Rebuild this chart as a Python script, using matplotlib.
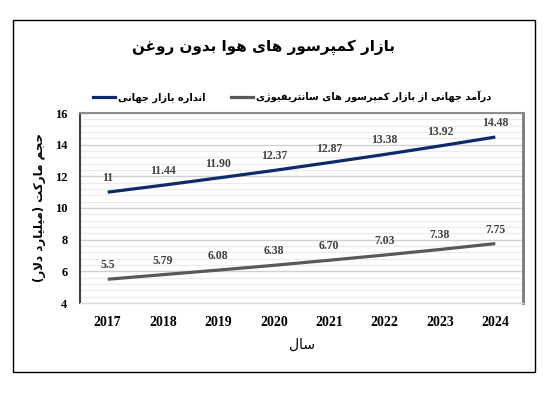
import matplotlib
matplotlib.use("Agg")
import matplotlib.pyplot as plt
from matplotlib.ticker import MultipleLocator
from matplotlib.lines import Line2D
from matplotlib.patches import Rectangle

# ---------------- data ----------------
years = ["2017", "2018", "2019", "2020", "2021", "2022", "2023", "2024"]
market_size = [11, 11.44, 11.90, 12.37, 12.87, 13.38, 13.92, 14.48]
market_labels = ["11", "11.44", "11.90", "12.37", "12.87", "13.38", "13.92", "14.48"]
centrifugal = [5.5, 5.79, 6.08, 6.38, 6.70, 7.03, 7.38, 7.75]
centrifugal_labels = ["5.5", "5.79", "6.08", "6.38", "6.70", "7.03", "7.38", "7.75"]
y_ticks = [4, 6, 8, 10, 12, 14, 16]

title_text = "بازار کمپرسور های هوا بدون روغن"
legend_market = "انداره بازار جهانی"
legend_centrifugal = "درآمد جهانی از بازار کمپرسور های سانتریفیوژی"
y_label = "حجم مارکت (میلیارد دلار)"
x_label = "سال"

# ------------- simple Persian shaping (presentation forms + visual order) -------------
FORMS = {  # isolated, final, initial, medial
    'ا': ('\uFE8D', '\uFE8E', None, None),
    'آ': ('\uFE81', '\uFE82', None, None),
    'ب': ('\uFE8F', '\uFE90', '\uFE91', '\uFE92'),
    'پ': ('\uFB56', '\uFB57', '\uFB58', '\uFB59'),
    'ت': ('\uFE95', '\uFE96', '\uFE97', '\uFE98'),
    'ج': ('\uFE9D', '\uFE9E', '\uFE9F', '\uFEA0'),
    'ح': ('\uFEA1', '\uFEA2', '\uFEA3', '\uFEA4'),
    'د': ('\uFEA9', '\uFEAA', None, None),
    'ر': ('\uFEAD', '\uFEAE', None, None),
    'ز': ('\uFEAF', '\uFEB0', None, None),
    'ژ': ('\uFB8A', '\uFB8B', None, None),
    'س': ('\uFEB1', '\uFEB2', '\uFEB3', '\uFEB4'),
    'غ': ('\uFECD', '\uFECE', '\uFECF', '\uFED0'),
    'ف': ('\uFED1', '\uFED2', '\uFED3', '\uFED4'),
    'ک': ('\uFB8E', '\uFB8F', '\uFB90', '\uFB91'),
    'ل': ('\uFEDD', '\uFEDE', '\uFEDF', '\uFEE0'),
    'م': ('\uFEE1', '\uFEE2', '\uFEE3', '\uFEE4'),
    'ن': ('\uFEE5', '\uFEE6', '\uFEE7', '\uFEE8'),
    'ه': ('\uFEE9', '\uFEEA', '\uFEEB', '\uFEEC'),
    'و': ('\uFEED', '\uFEEE', None, None),
    'ی': ('\uFBFC', '\uFBFD', '\uFBFE', '\uFBFF'),
    'LAا': ('\uFEFB', '\uFEFC', None, None),
    'LAآ': ('\uFEF5', '\uFEF6', None, None),
}
MIRROR = {'(': ')', ')': '('}


def shape(s):
    toks = []
    i = 0
    while i < len(s):
        c = s[i]
        if c == 'ل' and i + 1 < len(s) and s[i + 1] in 'اآ':
            toks.append('LA' + s[i + 1])
            i += 2
        else:
            toks.append(c)
            i += 1
    out = []
    for k, t in enumerate(toks):
        if t not in FORMS:
            out.append(MIRROR.get(t, t))
            continue
        iso, fin, ini, med = FORMS[t]
        prev = toks[k - 1] if k > 0 else None
        nxt = toks[k + 1] if k + 1 < len(toks) else None
        jp = prev in FORMS and FORMS[prev][2] is not None
        jn = ini is not None and nxt in FORMS
        if jp and jn:
            out.append(med)
        elif jp:
            out.append(fin)
        elif jn:
            out.append(ini)
        else:
            out.append(iso)
    return ''.join(reversed(out))


AR_FONT = 'DejaVu Sans'
NUM_FONT = 'Liberation Serif'

# ---------------- figure ----------------
W, H = 547, 393
fig = plt.figure(figsize=(W / 100, H / 100), dpi=100)
fig.patch.set_facecolor('white')

# outer border
fig.add_artist(Rectangle((13 / W, 1 - 372 / H), (535 - 13) / W, (372 - 20) / H,
                         transform=fig.transFigure, fill=False, edgecolor='black', linewidth=1.0))

ax = fig.add_axes([80 / W, 1 - 303 / H, (523 - 80) / W, (303 - 113) / H])
x = list(range(len(years)))

blue = '#0e2a6b'
gray = '#595959'
ax.plot(x, market_size, color=blue, linewidth=2.3, solid_capstyle='butt', zorder=3)
ax.plot(x, centrifugal, color=gray, linewidth=2.3, solid_capstyle='butt', zorder=3)

for xi, v, lab in zip(x, market_size, market_labels):
    ax.annotate(lab, (xi, v), xytext=(0, 8), textcoords='offset pixels', ha='center', va='bottom',
                fontsize=8.5, fontweight='bold', family=NUM_FONT, color='#404040')
for xi, v, lab in zip(x, centrifugal, centrifugal_labels):
    ax.annotate(lab, (xi, v), xytext=(0, 8), textcoords='offset pixels', ha='center', va='bottom',
                fontsize=8.5, fontweight='bold', family=NUM_FONT, color='#404040')

ax.set_xlim(-0.5, len(years) - 0.5)
ax.set_ylim(4, 16)
ax.set_xticks(x)
ax.set_xticklabels(years, fontsize=10, fontweight='bold', family=NUM_FONT)
ax.set_yticks(y_ticks)
ax.set_yticklabels([str(t) for t in y_ticks], fontsize=9, fontweight='bold', family=NUM_FONT)
ax.yaxis.set_minor_locator(MultipleLocator(0.4))
ax.tick_params(axis='both', which='both', length=0)
ax.tick_params(axis='x', pad=9)
ax.tick_params(axis='y', pad=9)
ax.grid(axis='y', which='major', color='#d0d0d0', linewidth=1.0, zorder=0)
ax.grid(axis='y', which='minor', color='#ececec', linewidth=0.9, zorder=0)
ax.set_axisbelow(True)

ax.spines['left'].set_color('#404040')
ax.spines['left'].set_linewidth(1.5)
ax.spines['top'].set_color('#8c8c8c')
ax.spines['top'].set_linewidth(1.5)
ax.spines['right'].set_color('#7a7a7a')
ax.spines['right'].set_linewidth(2.0)
ax.spines['bottom'].set_color('#d9d9d9')
ax.spines['bottom'].set_linewidth(1.0)

# title
fig.text(263 / W, 1 - 47 / H, shape(title_text), ha='center', va='center',
         fontsize=11, fontweight='bold', family=AR_FONT)

# legend
handles = [Line2D([], [], color=blue, linewidth=2.3),
           Line2D([], [], color=gray, linewidth=2.3)]
leg = fig.legend(handles, [shape(legend_market), shape(legend_centrifugal)],
                 loc='center', bbox_to_anchor=(292 / W, 1 - 97 / H), ncol=2, frameon=False,
                 handlelength=2.2, handletextpad=0.3, columnspacing=2.6,
                 prop={'family': AR_FONT, 'weight': 'bold', 'size': 7.1})

# axis labels
fig.text(40 / W, 1 - 207 / H, shape(y_label), rotation=90, ha='center', va='center',
         fontsize=8.6, fontweight='bold', family=AR_FONT)
fig.text(302 / W, 1 - 345 / H, shape(x_label), ha='center', va='center',
         fontsize=10, family=AR_FONT)

fig.savefig('out.png', dpi=100, facecolor='white')
